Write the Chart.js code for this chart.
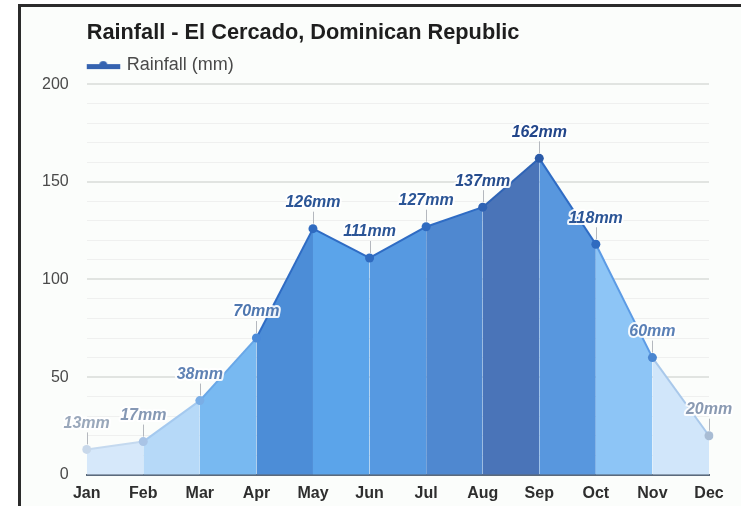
<!DOCTYPE html>
<html>
<head>
<meta charset="utf-8">
<script src="https://cdn.jsdelivr.net/npm/chart.js@4/dist/chart.umd.min.js"></script>
<style>
  html, body { margin: 0; padding: 0; background: #fff; }
  #frame {
    position: absolute; left: 18px; top: 4px; width: 723px; height: 502px;
    border-top: 3px solid #2b2b2b; border-left: 3px solid #2b2b2b;
    background: #fbfdfb; box-sizing: border-box;
  }
  #wrap { position: absolute; left: 0; top: 0; width: 741px; height: 506px; }
</style>
</head>
<body>
<div id="frame"></div>
<div id="wrap"><canvas id="chart"></canvas></div>
<script>
const MONTHS = ['Jan', 'Feb', 'Mar', 'Apr', 'May', 'Jun', 'Jul', 'Aug', 'Sep', 'Oct', 'Nov', 'Dec'];
const RAINFALL = [13, 17, 38, 70, 126, 111, 127, 137, 162, 118, 60, 20];
const Y_LABELS = [0, 50, 100, 150, 200];

// per-segment colours (segment i runs from month i to month i+1)
const FILL_COLORS = ['#d6e8fa', '#b6d9f8', '#78b9f1', '#4c8dd7', '#5ba4ea', '#5699e1',
                     '#4f88d0', '#4a74b8', '#5897de', '#8dc5f6', '#d1e6fa'];
const LINE_COLORS = ['#c4d9ef', '#a4c9ef', '#69a7e7', '#2f6cc4', '#2f6cc4', '#2f6cc4',
                     '#2f6cc4', '#2f64b6', '#2f6cc4', '#5c9be5', '#a9c8ea'];
const POINT_COLORS = ['#c8d8ea', '#a9c4e6', '#7aaee6', '#4a8ad8', '#2f6bc0', '#2f6bc0',
                      '#2f6bc0', '#2f63b4', '#2a5aa8', '#2f6bc0', '#4a86d0', '#a8bcd4'];
const LABEL_COLORS = ['#9aa8bb', '#8598b4', '#5f82b4', '#4f78b0', '#2b5596', '#2b5596',
                      '#2b5596', '#264d8e', '#22468a', '#2b5596', '#5a80b6', '#8a9ab2'];

const FONT = "'Liberation Sans', Arial, Helvetica, sans-serif";

// legend marker: thick bar with a dot in the middle
function legendMarker() {
  const c = document.createElement('canvas');
  c.width = 40; c.height = 12;
  const g = c.getContext('2d');
  g.fillStyle = '#3563b0';
  g.fillRect(2, 5, 34, 5);
  g.beginPath();
  g.arc(19, 6, 4, 0, Math.PI * 2);
  g.fill();
  return c;
}

// value labels with a short leader line
const valueLabels = {
  id: 'valueLabels',
  afterDatasetsDraw(chart) {
    const { ctx } = chart;
    const meta = chart.getDatasetMeta(0);
    ctx.save();
    meta.data.forEach((pt, i) => {
      const x = pt.x, y = pt.y;
      ctx.strokeStyle = '#b4b8be';
      ctx.lineWidth = 1;
      ctx.beginPath();
      ctx.moveTo(Math.round(x) + 0.5, y - 5);
      ctx.lineTo(Math.round(x) + 0.5, y - 17);
      ctx.stroke();

      const txt = RAINFALL[i] + 'mm';
      ctx.font = 'italic bold 16px ' + FONT;
      ctx.textAlign = 'center';
      ctx.textBaseline = 'middle';
      ctx.lineJoin = 'round';
      ctx.lineWidth = 4;
      ctx.strokeStyle = 'rgba(255,255,255,0.9)';
      ctx.strokeText(txt, x, y - 26);
      ctx.fillStyle = LABEL_COLORS[i];
      ctx.fillText(txt, x, y - 26);
    });
    ctx.restore();
  },
};

new Chart(document.getElementById('chart'), {
  type: 'line',
  data: {
    labels: MONTHS,
    datasets: [{
      label: 'Rainfall (mm)',
      data: RAINFALL,
      fill: 'origin',
      tension: 0,
      borderWidth: 2,
      backgroundColor: FILL_COLORS[0],
      borderColor: '#2f6cc4',
      pointRadius: 4.5,
      pointBorderWidth: 0,
      pointBackgroundColor: POINT_COLORS,
      pointStyle: 'circle',
      segment: {
        backgroundColor: (c) => FILL_COLORS[c.p0DataIndex],
        borderColor: (c) => LINE_COLORS[c.p0DataIndex],
      },
    }],
  },
  options: {
    responsive: true,
    maintainAspectRatio: false,
    animation: false,
    events: [],
    layout: { padding: { left: 24, right: 32, top: 6, bottom: -6 } },
    plugins: {
      title: {
        display: true,
        text: 'Rainfall - El Cercado, Dominican Republic',
        align: 'start',
        fullSize: false,
        color: '#1e1e1e',
        font: { family: FONT, size: 21.75, weight: 'bold' },
        padding: { top: 14, bottom: 6 },
      },
      legend: {
        display: true,
        align: 'start',
        fullSize: false,
        labels: {
          usePointStyle: true,
          pointStyleWidth: 27,
          padding: 4,
          color: '#4a4a4a',
          font: { family: FONT, size: 18 },
          generateLabels: (chart) => [{
            text: chart.data.datasets[0].label,
            pointStyle: legendMarker(),
            fontColor: '#4a4a4a',
            lineWidth: 0,
            datasetIndex: 0,
          }],
        },
      },
      tooltip: { enabled: false },
    },
    scales: {
      x: {
        z: 1,
        offset: false,
        grid: { display: false, drawTicks: false },
        border: { display: true, color: '#5b6a7c', width: 2 },
        ticks: {
          color: '#2e2e2e',
          padding: 9,
          font: { family: FONT, size: 16, weight: 'bold' },
        },
      },
      y: {
        min: 0,
        max: 200,
        border: { display: false },
        grid: {
          drawTicks: false,
          color: (c) => (Y_LABELS.includes(c.tick.value) ? '#e1e4e1' : '#eff0ef'),
          lineWidth: (c) => (Y_LABELS.includes(c.tick.value) ? 2 : 1),
        },
        ticks: {
          stepSize: 10,
          autoSkip: false,
          padding: 18,
          color: '#4a4a4a',
          font: { family: FONT, size: 16 },
          callback: (v) => (Y_LABELS.includes(v) ? String(v) : ''),
        },
      },
    },
  },
  plugins: [valueLabels],
});
</script>
</body>
</html>
